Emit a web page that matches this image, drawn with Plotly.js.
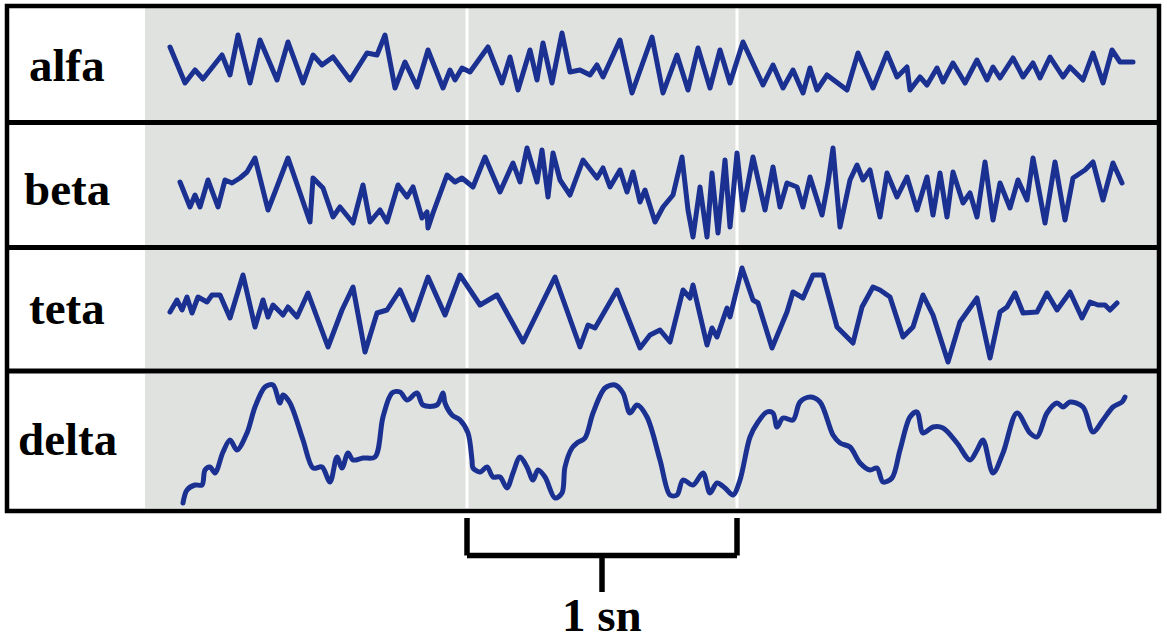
<!DOCTYPE html>
<html>
<head>
<meta charset="utf-8">
<script src="https://cdn.plot.ly/plotly-3.0.1.min.js"></script>
<style>
  html, body { margin:0; padding:0; background:#fff; }
  #chart { width:1167px; height:642px; }
  path.js-line { stroke-linejoin: round; stroke-linecap: round; }
</style>
</head>
<body>
<div id="chart"></div>
<script>
// ---- data ----
const FS = 270;                     // samples per second
const waveLabels = ['alfa', 'beta', 'teta', 'delta'];
const markerTimes = [1.1, 2.1];     // seconds (white marker lines)
const scaleLabel = '1 sn';

const alfaN = [0,15,25,33,52,60,68,80,90,107,118,133,143,152,163,180,197,207,215,225,235,247,258,273,280,285,292,300,318,332,340,348,360,367,373,382,392,400,410,420,427,433,450,462,482,493,507,518,528,540,550,560,573,593,603,613,623,633,640,647,657,677,688,703,717,727,737,740,750,757,767,773,783,795,807,817,823,830,843,853,863,870,880,893,900,913,923,933,942,950,963];
const alfaV = [17,-19,-6,-15,9,-11,29,-19,24,-16,22,-19,9,-1,7,-16,11,9,29,-24,2,-23,14,-24,-6,-16,-4,-8,17,-19,7,-26,14,-16,21,-19,31,-8,-6,-11,-1,-13,24,-29,27,-29,9,-26,16,-24,14,-19,22,-21,-1,-24,-6,-29,-4,-26,-11,-26,11,-24,11,-13,-3,-26,-13,-21,-4,-18,1,-19,4,-16,-3,-14,6,-13,1,-14,7,-13,-3,-16,11,-19,14,2,2];

const betaN = [10,20,25,30,38,48,55,62,70,77,85,98,105,118,128,140,143,153,163,170,183,193,200,210,217,228,237,243,252,257,258,263,277,285,292,303,315,330,343,350,357,367,372,378,383,390,400,413,427,433,440,450,457,463,470,475,485,493,503,512,518,523,530,537,542,548,555,560,567,573,583,595,603,610,617,627,633,640,652,658,663,670,680,687,693,700,710,717,727,737,747,757,763,770,777,783,793,800,807,815,823,830,840,848,857,863,875,885,895,903,915,923,933,943,952];
const betaV = [3,-22,-10,-22,5,-22,5,2,7,13,27,-25,-7,27,-2,-37,7,-3,-32,-22,-38,0,-37,-25,-37,0,-12,-2,-33,-27,-43,-28,10,3,7,-2,28,-7,22,3,37,3,35,-12,32,5,-10,25,7,17,-2,15,-7,13,-17,-5,-37,-22,-10,28,-25,-52,-2,-52,12,-48,25,-42,32,-25,28,-25,18,-22,2,-2,-22,8,-30,2,37,-42,5,20,5,15,-32,12,-12,8,-25,8,-30,12,-32,13,-18,-8,-32,23,-35,2,-23,5,-15,27,-38,23,-35,7,15,23,-15,22,2];

const tetaN = [0,7,12,17,22,28,37,42,50,60,73,85,93,98,103,113,118,127,138,158,172,183,195,207,217,230,243,258,275,290,310,327,353,385,410,418,425,447,470,480,490,500,513,520,523,537,542,547,557,560,572,583,588,602,617,623,633,643,653,667,683,692,703,710,720,733,743,753,763,778,790,807,820,830,837,845,853,867,877,887,900,912,920,928,935,940,947];
const tetaV = [-3,9,-1,12,-4,12,7,14,14,-9,34,-18,9,-8,4,-6,2,-8,16,-38,-1,22,-43,-4,-1,19,-11,32,-6,34,4,14,-33,32,-38,-16,-19,19,-39,-26,-21,-33,19,11,24,-36,-19,-28,1,-8,41,9,6,-39,-3,17,11,34,34,-18,-34,2,22,19,12,-28,-18,14,-6,-53,-13,11,-49,-3,2,16,-4,-3,16,-1,17,-9,7,4,4,-1,6];

const deltaN = [13,17,25,32,35,40,45,53,60,67,77,85,95,103,110,113,120,133,143,152,160,167,172,178,183,193,205,213,222,230,237,247,253,267,273,275,282,290,298,302,303,310,317,323,330,337,343,350,357,363,368,375,385,392,395,402,407,415,423,435,445,453,460,467,477,490,500,507,513,523,533,540,547,555,563,570,580,588,597,603,607,613,623,630,640,650,663,670,680,690,700,707,713,722,730,740,747,753,763,773,787,800,807,813,823,833,847,860,867,877,887,893,900,913,923,933,943,952,955];
const deltaV = [-62,-49,-44,-44,-29,-26,-32,-11,1,-9,8,34,54,56,38,46,38,1,-27,-26,-41,-16,-27,-12,-19,-17,-16,24,48,49,41,48,36,36,48,38,26,21,8,-19,-27,-31,-26,-36,-36,-47,-32,-16,-26,-39,-29,-36,-57,-52,-26,-7,-2,3,28,53,56,48,28,36,24,-19,-54,-54,-39,-44,-32,-52,-42,-47,-54,-39,4,19,29,28,14,23,21,39,44,39,6,-2,-6,-22,-29,-27,-41,-37,-9,24,29,8,14,13,-2,-19,-9,1,-32,-12,28,8,4,28,38,34,39,34,9,21,34,39,44];

// ---- layout helpers (page geometry) ----
const W = 1167, H = 642;
const px = x => x / W;
const py = y => 1 - y / H;
const rows = [
  {top: 8,   bot: 120, labelY: 65},
  {top: 125, bot: 245, labelY: 189},
  {top: 250, bot: 368, labelY: 308},
  {top: 374, bot: 508, labelY: 439}
];
const series = [[alfaN, alfaV], [betaN, betaV], [tetaN, tetaV], [deltaN, deltaV]];
const lineColor = '#1b3192';
const labelFont = {family: 'Liberation Serif, Times New Roman, serif', size: 47, weight: 'bold', color: '#000'};

const traces = series.map((s, i) => ({
  type: 'scatter', mode: 'lines',
  x: s[0].map(n => n / FS), y: s[1],
  xaxis: 'x', yaxis: i === 0 ? 'y' : 'y' + (i + 1),
  line: {color: lineColor, width: 5, shape: i === 3 ? 'spline' : 'linear', smoothing: 0.9},
  hoverinfo: 'skip', showlegend: false
}));

const layout = {
  width: W, height: H,
  margin: {l: 0, r: 0, t: 0, b: 0, pad: 0},
  paper_bgcolor: '#ffffff', plot_bgcolor: 'rgba(0,0,0,0)',
  showlegend: false,
  xaxis: {domain: [0, 1], range: [-170 / FS, (W - 170) / FS], visible: false, fixedrange: true},
  shapes: [], annotations: []
};
rows.forEach((r, i) => {
  const key = i === 0 ? 'yaxis' : 'yaxis' + (i + 1);
  const half = (r.bot - r.top) / 2;
  layout[key] = {domain: [py(r.bot), py(r.top)], range: [-half, half], visible: false, fixedrange: true, anchor: 'x'};
  // grey trace area
  layout.shapes.push({type: 'rect', xref: 'paper', yref: 'paper', x0: px(145), x1: px(1157), y0: py(r.bot), y1: py(r.top),
    fillcolor: '#e0e2df', line: {width: 0}, layer: 'below'});
  layout.annotations.push({xref: 'paper', yref: 'paper', x: px(67), y: py(r.labelY), xanchor: 'center', yanchor: 'middle',
    text: waveLabels[i], showarrow: false, font: labelFont});
});
// white 1-second marker lines
markerTimes.forEach(t => layout.shapes.push({type: 'line', xref: 'x', yref: 'paper', x0: t, x1: t, y0: py(508), y1: py(8),
  line: {color: '#ffffff', width: 3}, layer: 'below'}));
// frame
layout.shapes.push({type: 'rect', xref: 'paper', yref: 'paper', x0: px(7), x1: px(1159), y0: py(511), y1: py(6),
  line: {color: '#000', width: 4.5}, fillcolor: 'rgba(0,0,0,0)', layer: 'above'});
[122.5, 247.5, 371].forEach(y => layout.shapes.push({type: 'line', xref: 'paper', yref: 'paper', x0: px(7), x1: px(1159),
  y0: py(y), y1: py(y), line: {color: '#000', width: 5}, layer: 'above'}));
// scale bar (1 s)
const t0 = markerTimes[0], t1 = markerTimes[1], tm = (t0 + t1) / 2;
const bar = {color: '#000', width: 5.5};
[[t0, 518, t0, 555.5], [t1, 518, t1, 555.5], [t0, 555.5, t1, 555.5], [tm, 555.5, tm, 592]].forEach(s =>
  layout.shapes.push({type: 'line', xref: 'x', yref: 'paper', x0: s[0], x1: s[2], y0: py(s[1]), y1: py(s[3]),
    line: bar, layer: 'above'}));
layout.annotations.push({xref: 'x', yref: 'paper', x: tm, y: 0, xanchor: 'center', yanchor: 'bottom',
  text: scaleLabel, showarrow: false, borderpad: 0, font: labelFont});

Plotly.newPlot('chart', traces, layout, {displayModeBar: false, staticPlot: true});
</script>
</body>
</html>
